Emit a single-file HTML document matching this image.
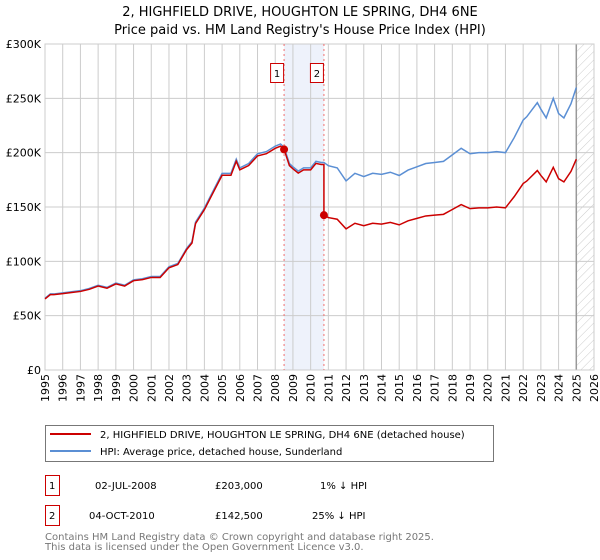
<!DOCTYPE html>
<html><head><meta charset="utf-8"><style>
body{margin:0;background:#fff;font-family:"Liberation Sans","DejaVu Sans",sans-serif;}
svg{display:block}
</style></head><body>
<svg width="600" height="560" xmlns="http://www.w3.org/2000/svg" font-family="DejaVu Sans, Liberation Sans, sans-serif">
<text x="300" y="16" text-anchor="middle" font-size="13">2, HIGHFIELD DRIVE, HOUGHTON LE SPRING, DH4 6NE</text>
<text x="300" y="34" text-anchor="middle" font-size="13">Price paid vs. HM Land Registry's House Price Index (HPI)</text>
<defs><pattern id="hatch" width="6" height="6" patternUnits="userSpaceOnUse" patternTransform="rotate(45)"><line x1="0" y1="0" x2="0" y2="6" stroke="#ccc" stroke-width="1"/></pattern></defs>
<g id="plot"></g>
<g id="legend">
<rect x="45.5" y="425.5" width="448" height="36" fill="#fff" stroke="#777"/>
<line x1="50" y1="434" x2="91" y2="434" stroke="#cc0000" stroke-width="2"/>
<text x="100" y="438" font-size="10">2, HIGHFIELD DRIVE, HOUGHTON LE SPRING, DH4 6NE (detached house)</text>
<line x1="50" y1="451" x2="91" y2="451" stroke="#5b8fd4" stroke-width="2"/>
<text x="100" y="455" font-size="10">HPI: Average price, detached house, Sunderland</text>
</g>
<g font-size="10">
<rect x="45.5" y="475.5" width="14" height="20" fill="#fff" stroke="#cc0000"/>
<text x="49" y="489">1</text>
<text x="95" y="489">02-JUL-2008</text>
<text x="215" y="489">£203,000</text>
<text x="320" y="489">1% ↓ HPI</text>
<rect x="45.5" y="505.5" width="14" height="20" fill="#fff" stroke="#cc0000"/>
<text x="49" y="519">2</text>
<text x="89" y="519">04-OCT-2010</text>
<text x="215" y="519">£142,500</text>
<text x="312" y="519">25% ↓ HPI</text>
</g>
<text x="45" y="540" font-size="10" fill="#777">Contains HM Land Registry data © Crown copyright and database right 2025.</text>
<text x="45" y="550" font-size="10" fill="#777">This data is licensed under the Open Government Licence v3.0.</text>
</svg>
<script>
const hpiDates=[1995.0,1995.3,1995.5,1996,1996.5,1997,1997.5,1998,1998.5,1999,1999.5,2000,2000.5,2001,2001.5,2002,2002.5,2003,2003.3,2003.5,2004,2004.5,2005,2005.5,2005.8,2006,2006.5,2007,2007.5,2008,2008.3,2008.5,2008.8,2009,2009.3,2009.6,2010,2010.3,2010.6,2010.75,2011,2011.5,2012,2012.5,2013,2013.5,2014,2014.5,2015,2015.5,2016,2016.5,2017,2017.5,2018,2018.5,2019,2019.5,2020,2020.5,2021,2021.5,2022,2022.2,2022.8,2023,2023.3,2023.7,2024,2024.3,2024.7,2025.0];
const hpiValues=[66,70,70,71,72,73,75,78,76,80,78,83,84,86,86,95,98,112,118,136,149,165,181,181,194,186,190,199,201,206,208,205,190,187,183,186,186,192,191,191,188,186,174,181,178,181,180,182,179,184,187,190,191,192,198,204,199,200,200,201,200,214,230,233,246,240,232,250,236,232,245,260];
const saleDates=[2008.5,2010.75];
const salePrices=[203,142.5];
const yTicks=[0,50,100,150,200,250,300];
const yTickLabels=["£0","£50K","£100K","£150K","£200K","£250K","£300K"];
const xYears=[1995,1996,1997,1998,1999,2000,2001,2002,2003,2004,2005,2006,2007,2008,2009,2010,2011,2012,2013,2014,2015,2016,2017,2018,2019,2020,2021,2022,2023,2024,2025,2026];
const X0=45,X1=594,Y0=370,Y1=44;
const xs=t=>X0+(t-1995)/(2026-1995)*(X1-X0);
const ys=v=>Y0-v/300*(Y0-Y1);
const NS="http://www.w3.org/2000/svg";
const g=document.getElementById('plot');
function mk(tag,attrs,parent){const e=document.createElementNS(NS,tag);for(const k in attrs)e.setAttribute(k,attrs[k]);(parent||g).appendChild(e);return e;}
function hpiAt(t){for(let i=0;i<hpiDates.length-1;i++){if(t>=hpiDates[i]&&t<=hpiDates[i+1]){const f=(t-hpiDates[i])/(hpiDates[i+1]-hpiDates[i]);return hpiValues[i]+f*(hpiValues[i+1]-hpiValues[i]);}}return hpiValues[hpiValues.length-1];}
// shaded region
let r=mk('rect',{x:xs(saleDates[0]),y:Y1,width:xs(saleDates[1])-xs(saleDates[0]),height:Y0-Y1,fill:'#eef2fb'});


let h=mk('rect',{x:xs(2025),y:Y1,width:X1-xs(2025),height:Y0-Y1,fill:'url(#hatch)'});


// grid
yTicks.forEach((v,i)=>{
 let l=mk('line',{x1:X0,x2:X1,y1:ys(v),y2:ys(v),stroke:'#ccc'});
 
 
 let t=mk('text',{x:X0-4,y:ys(v)+4,'text-anchor':'end','font-size':11});
 
 
 t.textContent=yTickLabels[i];
});
xYears.forEach(yr=>{
 let l=mk('line',{x1:xs(yr),x2:xs(yr),y1:Y1,y2:Y0,stroke:'#ccc'});
 
 
 let t=mk('text',{x:0,y:0,'text-anchor':'end','font-size':11,transform:`translate(${xs(yr)+4},${Y0+4}) rotate(-90)`});
 
 
 t.textContent=yr;
});
let vl=mk('line',{x1:xs(2025),x2:xs(2025),y1:Y1,y2:Y0,stroke:'#999','stroke-width':1.5});


let fr=mk('rect',{x:X0,y:Y1,width:X1-X0,height:Y0-Y1,fill:'none',stroke:'#ccc'});


// sale markers
saleDates.forEach((d,i)=>{
 let l=mk('line',{x1:xs(d),x2:xs(d),y1:Y1,y2:Y0,stroke:'#f07070','stroke-dasharray':'2,3'});
 
 
 let b=mk('rect',{x:xs(d)-13.5,y:63.5,width:13,height:19,fill:'#fff',stroke:'#cc0000'});
 
 
 let t=mk('text',{x:xs(d)-7,y:77,'text-anchor':'middle','font-size':10});
 
 
 t.textContent=i+1;
});
// HPI line
let hp=mk('polyline',{points:hpiDates.map((d,i)=>xs(d)+','+ys(hpiValues[i])).join(' '),fill:'none',stroke:'#5b8fd4','stroke-width':1.5});


// price paid line (indexed to HPI from each sale)
const pts=[];
const r1=salePrices[0]/hpiAt(saleDates[0]);
const r2=salePrices[1]/hpiAt(saleDates[1]);
hpiDates.forEach((d,i)=>{if(d<saleDates[1])pts.push([d,hpiValues[i]*r1]);});
pts.push([saleDates[1],hpiAt(saleDates[1])*r1]);
pts.push([saleDates[1],salePrices[1]]);
hpiDates.forEach((d,i)=>{if(d>saleDates[1])pts.push([d,hpiValues[i]*r2]);});
let pp=mk('polyline',{points:pts.map(p=>xs(p[0])+','+ys(p[1])).join(' '),fill:'none',stroke:'#cc0000','stroke-width':1.5});


saleDates.forEach((d,i)=>{
 let c=mk('circle',{cx:xs(d),cy:ys(salePrices[i]),r:4,fill:'#cc0000'});
 
 
});
</script>
</body></html>
